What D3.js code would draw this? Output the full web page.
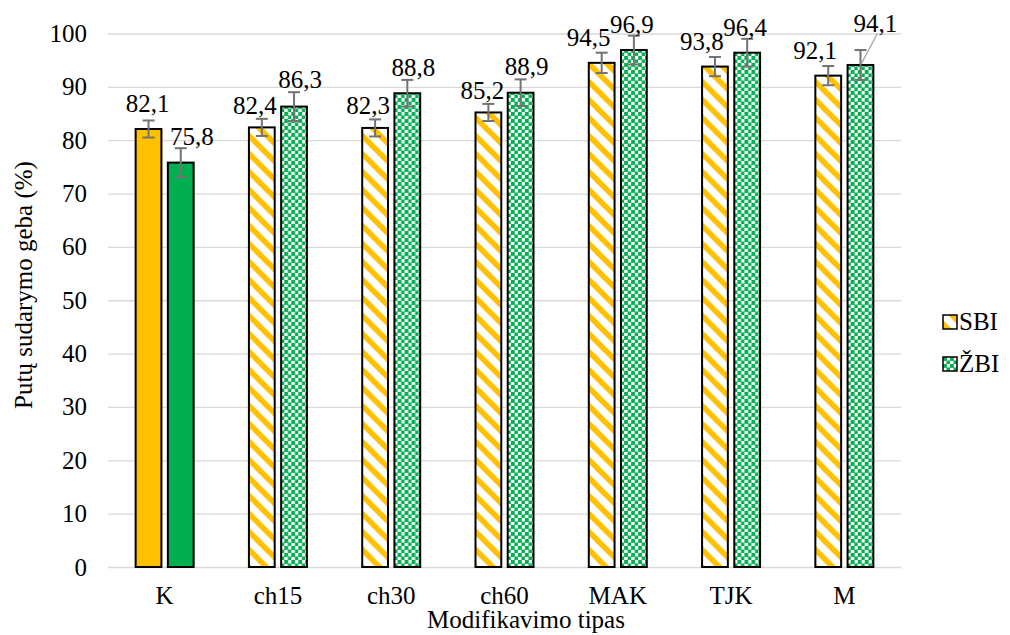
<!DOCTYPE html>
<html><head><meta charset="utf-8">
<script src="https://cdn.jsdelivr.net/npm/d3@7"></script>
<style>
body{margin:0;background:#fff;}
svg{display:block;}
</style></head>
<body><svg id="c" width="1010" height="635"></svg>
<script>
const categories = ["K","ch15","ch30","ch60","MAK","TJK","M"];
const series = ["SBI","ŽBI"];
const sbiValues = [82.1,82.4,82.3,85.2,94.5,93.8,92.1];
const zbiValues = [75.8,86.3,88.8,88.9,96.9,96.4,94.1];
const sbiErrors = [1.6,1.6,1.6,1.6,1.9,1.8,1.8];
const zbiErrors = [2.7,2.7,2.5,2.5,2.7,2.6,2.8];
const yTicks = [0,10,20,30,40,50,60,70,80,90,100];
const yTitle = "Putų sudarymo geba (%)";
const xTitle = "Modifikavimo tipas";

// label layout offsets (px): [dx from bar centre, dy from error-bar top]
const sbiLabelShift = [[-1,-8],[-7,-5],[-7,-5],[-6,-5],[-13,-7],[-13,-7],[-13,-7]];
const zbiLabelShift = [[11,-3],[6,-4],[6,-4],[6,-4],[-2,-3],[-2,-3],[15,-18]];

const FS = 25;
const FONT = "'Liberation Serif', 'Times New Roman', serif";
const svg = d3.select("#c");
const L=108, R=901, T=33.5, B=567;
const y = d3.scaleLinear().domain([0,100]).range([B,T]);
const x0 = d3.scaleBand().domain(categories).range([L,R]).padding(0);
const bw = x0.bandwidth();
const x1 = d3.scaleBand().domain(series).range([bw/2-29, bw/2+29]).paddingInner(0.2);

const defs = svg.append("defs");
// diagonal stripes pattern
const P = 18;
const ps = defs.append("pattern").attr("id","stripe").attr("patternUnits","userSpaceOnUse")
  .attr("width",P).attr("height",P);
ps.append("rect").attr("width",P).attr("height",P).attr("fill","#fff");
ps.append("path").attr("d",`M-5,-5 L${P+5},${P+5} M${-P-5},-5 L5,${P+5} M${P-5},-5 L${2*P+5},${P+5}`)
  .attr("stroke","#FFC000").attr("stroke-width",5.5);
// checkerboard pattern
const pc = defs.append("pattern").attr("id","check").attr("patternUnits","userSpaceOnUse")
  .attr("width",7).attr("height",7);
pc.append("rect").attr("width",7).attr("height",7).attr("fill","#fff");
pc.append("rect").attr("width",3.9).attr("height",3.9).attr("fill","#00B050");
pc.append("rect").attr("x",3.5).attr("y",3.5).attr("width",3.9).attr("height",3.9).attr("fill","#00B050");

// gridlines + y tick labels
const yAxis = d3.axisLeft(y).tickValues(yTicks).tickSize(-(R-L)).tickFormat(d3.format("d"));
const gy = svg.append("g").attr("transform",`translate(${L},0)`).call(yAxis);
gy.select(".domain").remove();
gy.selectAll(".tick line").attr("stroke","#d9d9d9").attr("stroke-width",1.3);
gy.selectAll(".tick text").attr("x",-21).attr("fill","#000");

const data = categories.map((c,i)=>({cat:c,i,vals:[
  {s:"SBI",v:sbiValues[i],e:sbiErrors[i],sh:sbiLabelShift[i],i},
  {s:"ŽBI",v:zbiValues[i],e:zbiErrors[i],sh:zbiLabelShift[i],i}]}));

function fillFor(s,i){
  if(i===0) return s==="SBI"?"#FFC000":"#00B050";
  return s==="SBI"?"url(#stripe)":"url(#check)";
}

const groups = svg.append("g").selectAll("g").data(data).join("g")
  .attr("transform",d=>`translate(${x0(d.cat)},0)`);

groups.selectAll("rect.bar").data(d=>d.vals).join("rect")
  .attr("class","bar")
  .attr("x",d=>x1(d.s)).attr("width",x1.bandwidth())
  .attr("y",d=>y(d.v)).attr("height",d=>y(0)-y(d.v))
  .attr("fill",d=>fillFor(d.s,d.i)).attr("stroke","#000").attr("stroke-width",2);

// error bars
const cx = d=>x1(d.s)+x1.bandwidth()/2;
const eb = groups.selectAll("g.err").data(d=>d.vals).join("g").attr("class","err")
  .attr("stroke","#737373").attr("stroke-width",2).attr("fill","none");
eb.append("line").attr("x1",cx).attr("x2",cx)
  .attr("y1",d=>y(d.v+d.e)).attr("y2",d=>y(d.v-d.e));
eb.append("line").attr("x1",d=>cx(d)-6).attr("x2",d=>cx(d)+6)
  .attr("y1",d=>y(d.v+d.e)).attr("y2",d=>y(d.v+d.e));
eb.append("line").attr("x1",d=>cx(d)-6).attr("x2",d=>cx(d)+6)
  .attr("y1",d=>y(d.v-d.e)).attr("y2",d=>y(d.v-d.e));

// leader line for last ŽBI label
groups.filter(d=>d.i===6).append("line")
  .attr("x1",x1("ŽBI")+x1.bandwidth()/2+1).attr("y1",y(zbiValues[6]+0.3))
  .attr("x2",x1("ŽBI")+x1.bandwidth()/2+17).attr("y2",y(zbiValues[6]+5.9))
  .attr("stroke","#a6a6a6").attr("stroke-width",1.3);

// data labels
const fmt = v=>v.toFixed(1).replace(".",",");
groups.selectAll("text.lab").data(d=>d.vals).join("text").attr("class","lab")
  .attr("x",d=>cx(d)+d.sh[0])
  .attr("y",d=>y(d.v+d.e)+d.sh[1])
  .attr("text-anchor","middle").attr("fill","#000")
  .text(d=>fmt(d.v));

// x axis labels
const xAxis = d3.axisBottom(x0).tickSize(0).tickPadding(19);
const gx = svg.append("g").attr("transform",`translate(0,${B})`).call(xAxis);
gx.select(".domain").remove();
gx.selectAll(".tick text").attr("fill","#000");

// axis titles
svg.append("text").attr("x",526).attr("y",628).attr("text-anchor","middle").text(xTitle);
svg.append("text").attr("transform",`translate(32,285) rotate(-90)`)
  .attr("text-anchor","middle").text(yTitle);

// legend
const lg = svg.append("g").attr("transform","translate(943,0)");
const legY = [322,364];
series.forEach((s,i)=>{
  lg.append("rect").attr("x",0).attr("y",legY[i]-7).attr("width",14).attr("height",14)
    .attr("fill",s==="SBI"?"url(#stripe)":"url(#check)").attr("stroke","#000").attr("stroke-width",1.5);
  lg.append("text").attr("x",16).attr("y",legY[i]+8).text(s);
});

svg.selectAll("text").style("font-family",FONT).style("font-size",FS+"px").style("fill","#000");
</script></body></html>
